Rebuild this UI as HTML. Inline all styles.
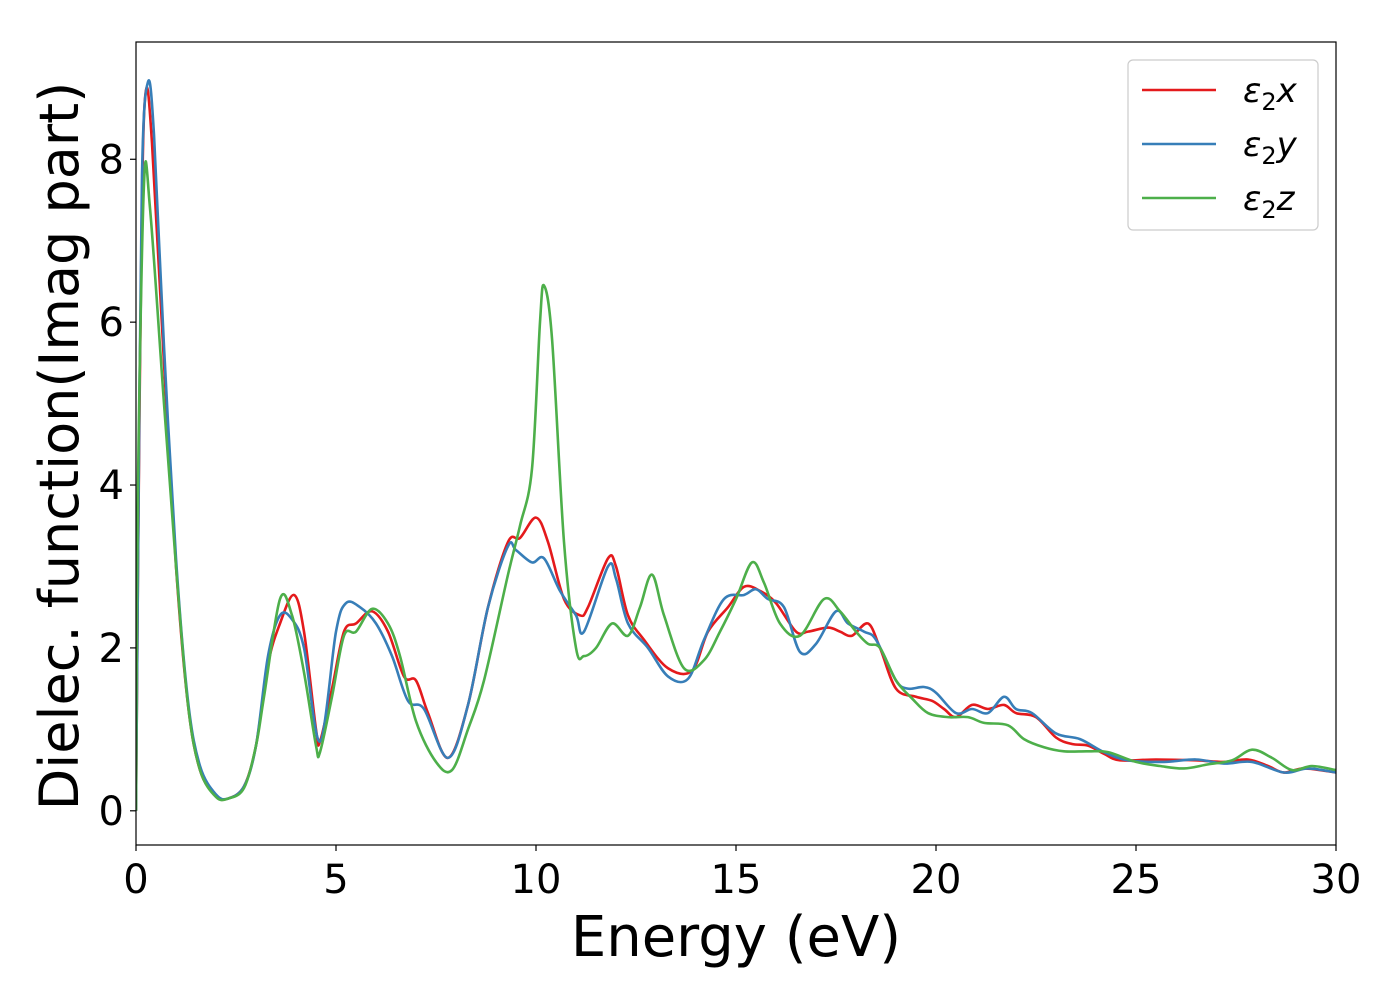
<!DOCTYPE html>
<html><head><meta charset="utf-8"><style>
html,body{margin:0;padding:0;background:#fff;}
svg{display:block;font-family:"DejaVu Sans","Liberation Sans",sans-serif;}
</style></head><body>
<svg id="chart" width="1400" height="1000" viewBox="0 0 1400 1000" xmlns="http://www.w3.org/2000/svg">
<g id="plot"></g>
</svg>
<script>
const xTicks=[0,5,10,15,20,25,30];
const yTicks=[0,2,4,6,8];
const seriesNames=["x","y","z"];
const seriesColors=["#e41a1c","#377eb8","#4daf4a"];
const energyX=[0,0.05,0.15,0.25,0.4,0.7,1.0,1.3,1.6,2.0,2.3,2.7,3.0,3.3,3.6,3.95,4.2,4.5,4.6,4.9,5.2,5.5,5.9,6.3,6.7,7.0,7.3,7.8,8.3,8.8,9.3,9.6,10.0,10.3,10.7,11.1,11.3,11.8,12.0,12.3,12.7,13.3,13.9,14.3,14.8,15.2,15.6,16.0,16.5,16.8,17.3,17.6,17.9,18.3,18.6,19.0,19.5,19.9,20.2,20.5,20.9,21.3,21.7,22.0,22.5,23.0,23.4,23.8,24.2,24.6,25.5,26.5,27.2,27.8,28.3,28.7,29.2,30];
const valuesX=[0,3,7.5,8.85,8.2,5.5,3.0,1.3,0.5,0.18,0.15,0.3,0.8,1.8,2.3,2.65,2.2,1.0,0.85,1.5,2.2,2.3,2.45,2.2,1.65,1.6,1.2,0.65,1.3,2.5,3.3,3.35,3.6,3.3,2.6,2.4,2.5,3.1,3.0,2.4,2.1,1.75,1.72,2.2,2.5,2.75,2.7,2.55,2.2,2.2,2.25,2.2,2.15,2.3,2.0,1.5,1.4,1.35,1.25,1.15,1.3,1.25,1.3,1.2,1.15,0.9,0.82,0.8,0.7,0.62,0.63,0.62,0.6,0.63,0.55,0.47,0.52,0.47];
const energyY=[0,0.05,0.15,0.3,0.45,0.7,1.0,1.3,1.6,2.0,2.3,2.7,3.0,3.3,3.6,3.9,4.2,4.6,5.0,5.25,5.6,6.0,6.4,6.8,7.2,7.8,8.3,8.8,9.3,9.5,9.9,10.2,10.6,11.0,11.2,11.8,12.0,12.3,12.8,13.3,13.8,14.2,14.7,15.2,15.5,15.8,16.2,16.6,17.0,17.5,17.8,18.2,18.5,19.0,19.3,19.7,20.0,20.5,20.9,21.3,21.7,22.0,22.4,23.0,23.6,24.2,24.8,25.7,26.5,27.2,27.9,28.7,29.3,30];
const valuesY=[0,3,7.8,8.95,8.3,5.7,3.1,1.35,0.55,0.2,0.15,0.3,0.8,1.9,2.4,2.35,2.0,0.85,2.2,2.55,2.5,2.3,1.9,1.35,1.25,0.65,1.3,2.5,3.25,3.2,3.05,3.1,2.7,2.4,2.2,3.0,2.85,2.3,2.0,1.65,1.62,2.1,2.6,2.65,2.72,2.6,2.5,1.95,2.05,2.45,2.3,2.2,2.1,1.6,1.5,1.52,1.45,1.2,1.25,1.2,1.4,1.25,1.2,0.95,0.88,0.72,0.62,0.6,0.63,0.58,0.6,0.47,0.52,0.47];
const energyZ=[0,0.05,0.2,0.35,0.7,1.0,1.3,1.6,2.0,2.3,2.7,3.0,3.2,3.6,3.9,4.2,4.5,4.6,4.9,5.2,5.5,5.9,6.3,6.6,7.0,7.5,7.9,8.3,8.7,9.3,9.6,9.9,10.1,10.2,10.4,10.7,11.0,11.2,11.5,11.9,12.3,12.6,12.9,13.2,13.7,14.2,14.6,15.0,15.4,15.7,16.1,16.6,17.2,17.6,18.0,18.3,18.6,19.0,19.4,19.8,20.3,20.8,21.2,21.8,22.2,22.7,23.2,23.8,24.3,25.0,25.6,26.2,26.8,27.4,27.9,28.4,28.9,29.4,30];
const valuesZ=[0,4,7.7,7.4,5.0,3.0,1.3,0.5,0.17,0.15,0.28,0.8,1.4,2.6,2.4,1.7,0.8,0.72,1.4,2.15,2.2,2.48,2.3,1.9,1.1,0.6,0.5,1.0,1.6,2.9,3.5,4.2,6.0,6.45,5.8,3.3,2.0,1.9,2.0,2.3,2.15,2.5,2.9,2.4,1.75,1.85,2.2,2.6,3.05,2.8,2.3,2.15,2.6,2.45,2.2,2.05,2.0,1.6,1.38,1.2,1.15,1.15,1.08,1.05,0.88,0.78,0.73,0.73,0.72,0.6,0.55,0.52,0.57,0.62,0.75,0.65,0.5,0.55,0.5];

const L=136,R=1336,T=42,B=845;
const xMin=0,xMax=30,yMin=-0.42,yMax=9.44;
const sx=v=>L+(v-xMin)/(xMax-xMin)*(R-L);
const sy=v=>B-(v-yMin)/(yMax-yMin)*(B-T);
const NS="http://www.w3.org/2000/svg";
const g=document.getElementById('plot');
function mk(tag,attrs,parent){const e=document.createElementNS(NS,tag);for(const k in attrs)e.setAttribute(k,attrs[k]);(parent||g).appendChild(e);return e;}

function smoothPath(xs,ys){
  const p=xs.map((x,i)=>[sx(x),sy(ys[i])]);
  let d=`M${p[0][0]},${p[0][1]}`;
  for(let i=0;i<p.length-1;i++){
    const p0=p[Math.max(0,i-1)],p1=p[i],p2=p[i+1],p3=p[Math.min(p.length-1,i+2)];
    const c1=[p1[0]+(p2[0]-p0[0])/6,p1[1]+(p2[1]-p0[1])/6];
    const c2=[p2[0]-(p3[0]-p1[0])/6,p2[1]-(p3[1]-p1[1])/6];
    d+=` C${c1[0]},${c1[1]} ${c2[0]},${c2[1]} ${p2[0]},${p2[1]}`;
  }
  return d;
}

const clip=mk('clipPath',{id:'clp'});
mk('rect',{x:L,y:T,width:R-L,height:B-T},clip);

const allE=[energyX,energyY,energyZ],allV=[valuesX,valuesY,valuesZ];
allE.forEach((E,i)=>{
  const path=mk('path',{d:smoothPath(E,allV[i]),fill:'none',stroke:seriesColors[i],'stroke-width':2.6,'stroke-linejoin':'round','clip-path':'url(#clp)'});
  
  
});

const frame=mk('rect',{x:L,y:T,width:R-L,height:B-T,fill:'none',stroke:'#000','stroke-width':1.2});



xTicks.forEach(t=>{
  const tk=mk('line',{x1:sx(t),x2:sx(t),y1:B,y2:B+6,stroke:'#000','stroke-width':1.2});
  
  
  const tx=mk('text',{x:sx(t),y:B+48,'text-anchor':'middle','font-size':40,fill:'#000'});
  tx.textContent=t;
  
  
});
yTicks.forEach(t=>{
  const tk=mk('line',{x1:L-6,x2:L,y1:sy(t),y2:sy(t),stroke:'#000','stroke-width':1.2});
  
  
  const tx=mk('text',{x:L-12,y:sy(t)+14,'text-anchor':'end','font-size':40,fill:'#000'});
  tx.textContent=t;
  
  
});

const xl=mk('text',{x:736,y:956,'text-anchor':'middle','font-size':56,fill:'#000'});
xl.textContent='Energy (eV)';


const yl=mk('text',{x:0,y:0,'text-anchor':'middle','font-size':54,fill:'#000',transform:'translate(78,446) rotate(-90)'});
yl.textContent='Dielec. function(Imag part)';



const lg=mk('g',{});


mk('rect',{x:1128,y:60,width:190,height:170,rx:5,fill:'#fff',stroke:'#ccc','stroke-width':1.2},lg);
seriesNames.forEach((n,i)=>{
  const y=90+i*54;
  const ln=mk('line',{x1:1142,x2:1216,y1:y,y2:y,stroke:seriesColors[i],'stroke-width':2.6},lg);
  
  
  const tx=mk('text',{x:1243,y:y+12,'font-size':34,fill:'#000','font-style':'italic'},lg);
  
  
  const a=mk('tspan',{},tx);a.textContent='ε';
  const b=mk('tspan',{'font-size':24,dy:8,'font-style':'normal'},tx);b.textContent='2';
  const c=mk('tspan',{dy:-8},tx);c.textContent=n;
});
</script>
</body></html>
